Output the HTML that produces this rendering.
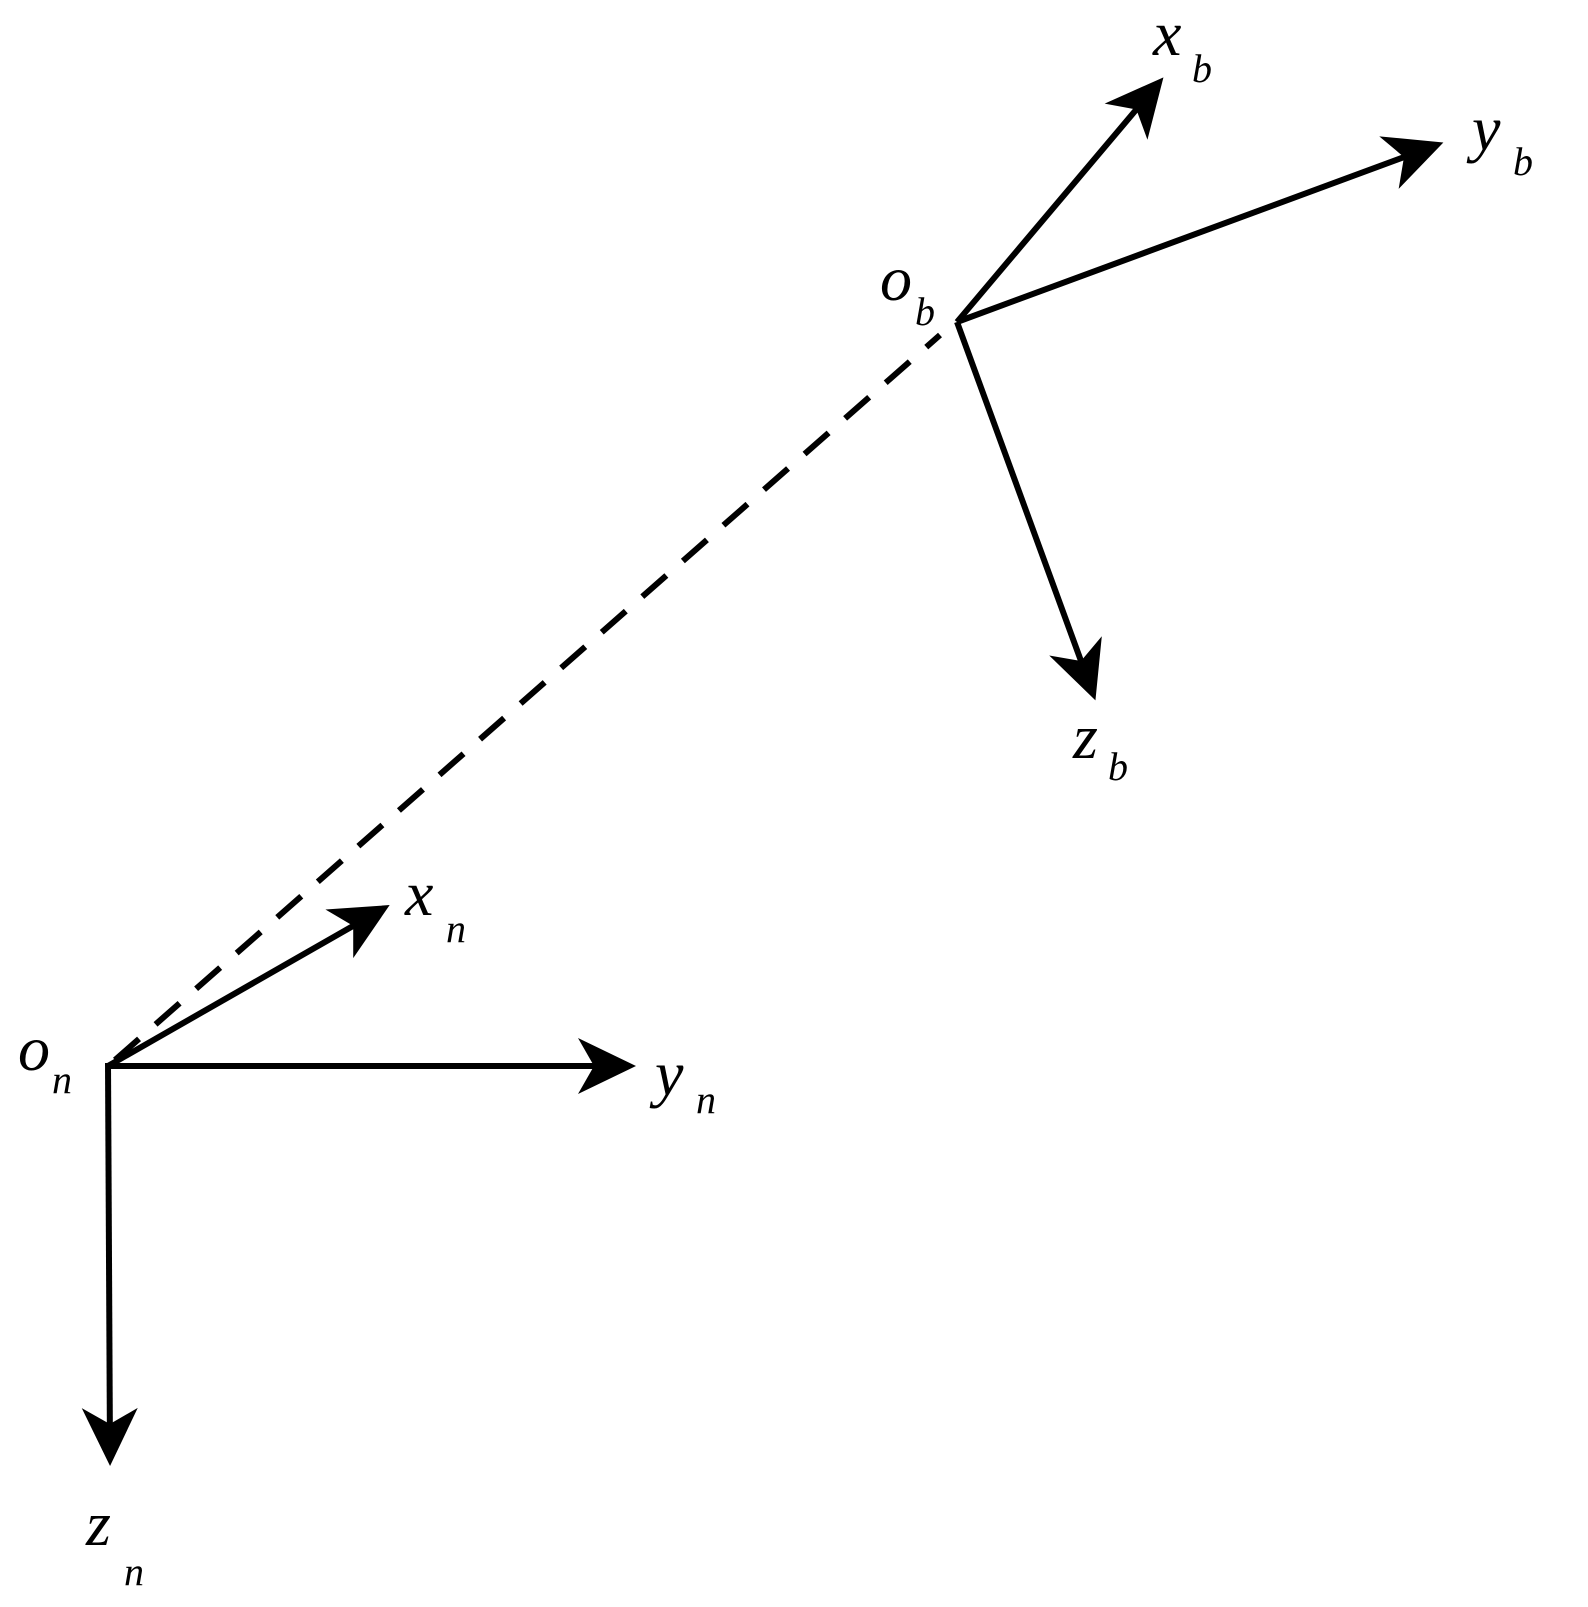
<!DOCTYPE html>
<html><head><meta charset="utf-8"><style>
html,body{margin:0;padding:0;background:#fff;}
svg{display:block;}
text{font-family:"Liberation Serif",serif;font-style:italic;fill:#000;}
.m{font-size:64px;}
.s{font-size:40px;}
</style></head><body>
<svg width="1588" height="1607" viewBox="0 0 1588 1607" xmlns="http://www.w3.org/2000/svg">
<defs>
<marker id="a" markerUnits="userSpaceOnUse" markerWidth="80" markerHeight="70" viewBox="-65 -35 80 70" refX="-10" refY="0" orient="auto">
<path d="M0,0 L-58,-28 L-42,0 L-58,28 Z" fill="#000"/>
</marker>
</defs>
<g stroke="#000" stroke-width="6" fill="none">
<line x1="115" y1="1060" x2="940" y2="335" stroke-dasharray="32,22"/>
<line x1="108" y1="1066" x2="626" y2="1066" marker-end="url(#a)"/>
<line x1="108" y1="1063" x2="110" y2="1456" marker-end="url(#a)"/>
<line x1="108" y1="1066" x2="381" y2="910" marker-end="url(#a)"/>
<line x1="957" y1="322" x2="1157" y2="85" marker-end="url(#a)"/>
<line x1="957" y1="322" x2="1434" y2="146" marker-end="url(#a)"/>
<line x1="957" y1="322" x2="1092" y2="691" marker-end="url(#a)"/>
</g>
<text class="m" x="405" y="915">x</text><text class="s" x="446" y="942">n</text>
<text class="m" x="655" y="1095">y</text><text class="s" x="696" y="1113">n</text>
<text class="m" x="86" y="1545">z</text><text class="s" x="124" y="1585">n</text>
<text class="m" x="18" y="1070">o</text><text class="s" x="52" y="1093">n</text>
<text class="m" x="880" y="300">o</text><text class="s" x="915" y="325">b</text>
<text class="m" x="1153" y="55">x</text><text class="s" x="1192" y="82">b</text>
<text class="m" x="1472" y="150">y</text><text class="s" x="1513" y="175">b</text>
<text class="m" x="1073" y="758">z</text><text class="s" x="1108" y="780">b</text>
</svg>
</body></html>
